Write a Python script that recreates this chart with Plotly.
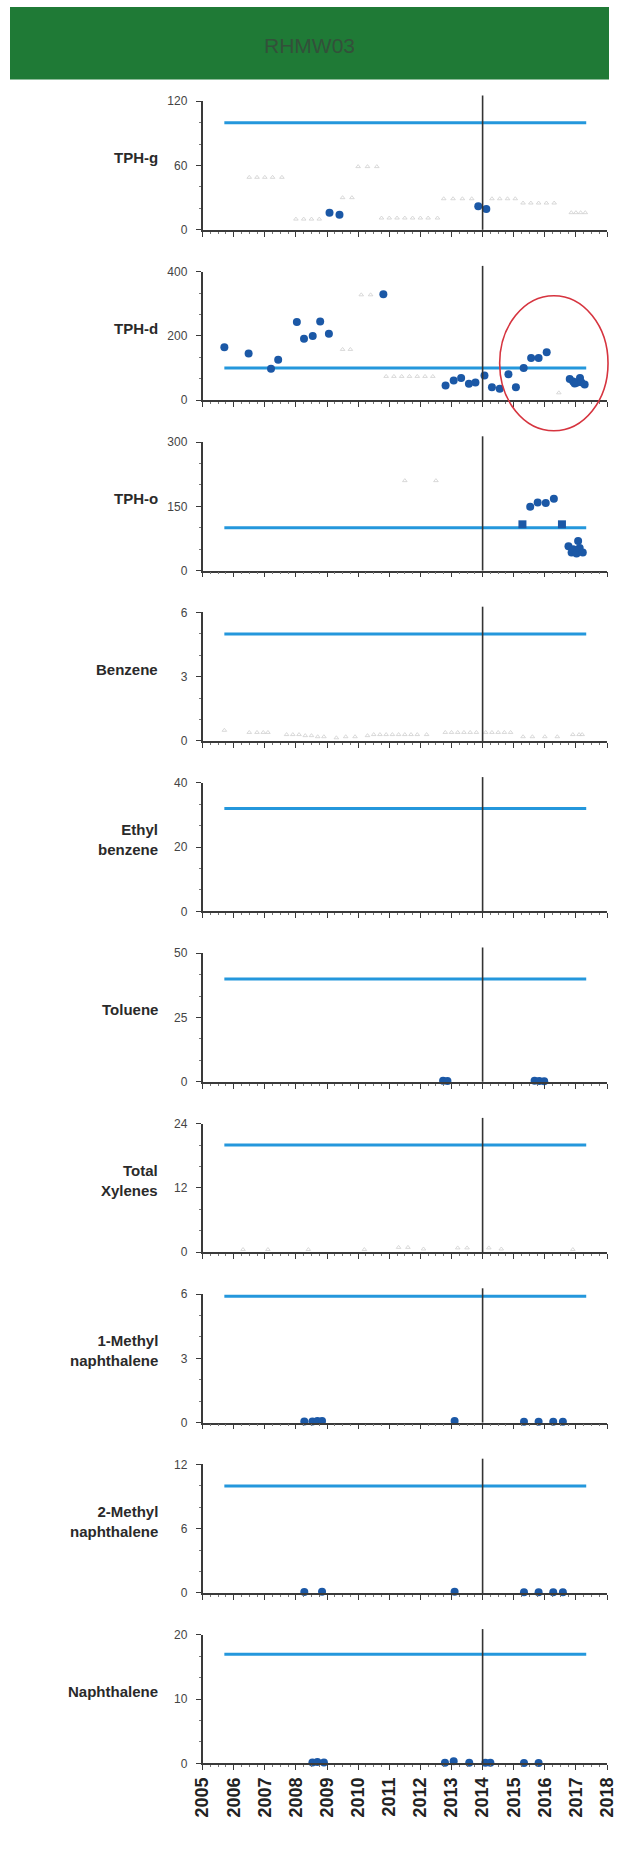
import plotly.graph_objects as go

# ---------------- data ----------------
analytes = ["TPH-g", "TPH-d", "TPH-o", "Benzene", "Ethyl<br>benzene", "Toluene",
            "Total<br>Xylenes", "1-Methyl<br>naphthalene", "2-Methyl<br>naphthalene", "Naphthalene"]
axis_max = [120, 400, 300, 6, 40, 50, 24, 6, 12, 20]
screening_level = [100, 100, 100, 5, 32, 40, 20, 5.9, 10, 17]
screen_start, screen_end = 2005.7, 2017.33
action_year = 2014.0
year_ticks = list(range(2005, 2019))

# detected results (decimal year / concentration)
tphg_x = [2009.08, 2009.40, 2013.86, 2014.12]
tphg_y = [16, 14, 22, 19.5]
tphd_x = [2005.70, 2006.48, 2007.20, 2007.43, 2008.03, 2008.26, 2008.54, 2008.78, 2009.06,
          2010.81, 2012.81, 2013.07, 2013.31, 2013.56, 2013.77, 2014.06, 2014.30, 2014.55,
          2014.83, 2015.07, 2015.32, 2015.56, 2015.80, 2016.06,
          2016.80, 2016.91, 2016.96, 2017.02, 2017.13, 2017.17, 2017.28]
tphd_y = [165, 145, 98, 126, 243, 191, 200, 245, 207,
          330, 46, 61, 69, 51, 55, 77, 40, 36,
          81, 40, 100, 131, 131, 149,
          66, 58, 52, 54, 69, 56, 49]
tpho_x = [2015.53, 2015.77, 2016.03, 2016.29,
          2016.76, 2016.86, 2016.91, 2017.02, 2017.07, 2017.12, 2017.22]
tpho_y = [149, 159, 158, 168,
          57, 42, 50, 40, 69, 53, 42]
tpho_sq_x = [2015.28, 2016.55]
tpho_sq_y = [108, 108]
toluene_x = [2012.73, 2012.87, 2015.67, 2015.82, 2015.98]
toluene_y = [0.4, 0.3, 0.4, 0.3, 0.2]
mnap1_x = [2008.27, 2008.53, 2008.69, 2008.84, 2013.10, 2015.33, 2015.80, 2016.27, 2016.58]
mnap1_y = [0.05, 0.05, 0.08, 0.08, 0.08, 0.04, 0.04, 0.04, 0.04]
mnap2_x = [2008.27, 2008.84, 2013.10, 2015.33, 2015.80, 2016.27, 2016.58]
mnap2_y = [0.1, 0.12, 0.12, 0.08, 0.08, 0.08, 0.08]
naph_x = [2008.53, 2008.69, 2008.90, 2012.79, 2013.07, 2013.57, 2014.09, 2014.25, 2015.33, 2015.80]
naph_y = [0.15, 0.2, 0.15, 0.1, 0.35, 0.1, 0.1, 0.1, 0.05, 0.05]

# non-detect (reporting limit) results, drawn faint
nd_tphg_x = [2006.5, 2006.75, 2007.0, 2007.25, 2007.55, 2008.0, 2008.25, 2008.5, 2008.75,
             2009.5, 2009.8, 2010.0, 2010.3, 2010.6, 2010.75, 2011.0, 2011.25, 2011.5,
             2011.75, 2012.0, 2012.25, 2012.55, 2012.75, 2013.05, 2013.35, 2013.65,
             2014.3, 2014.55, 2014.8, 2015.05, 2015.3, 2015.55, 2015.8, 2016.05, 2016.3,
             2016.85, 2017.0, 2017.15, 2017.3]
nd_tphg_y = [49, 49, 49, 49, 49, 10, 10, 10, 10,
             30, 30, 59, 59, 59, 11, 11, 11, 11,
             11, 11, 11, 11, 29, 29, 29, 29,
             29, 29, 29, 29, 25, 25, 25, 25, 25,
             16, 16, 16, 16]
nd_tphd_x = [2009.5, 2009.75, 2010.1, 2010.4, 2010.9, 2011.15, 2011.4, 2011.65, 2011.9,
             2012.15, 2012.4, 2016.45]
nd_tphd_y = [158, 158, 328, 328, 74, 74, 74, 74, 74, 74, 74, 23]
nd_tpho_x = [2011.5, 2012.5]
nd_tpho_y = [210, 210]
nd_benz_x = [2005.7, 2006.5, 2006.75, 2006.95, 2007.1, 2007.7, 2007.9, 2008.1, 2008.3, 2008.5,
             2008.7, 2008.9, 2009.3, 2009.6, 2009.9, 2010.3, 2010.5, 2010.7, 2010.9, 2011.1,
             2011.3, 2011.5, 2011.7, 2011.9, 2012.2, 2012.8, 2013.0, 2013.2, 2013.4, 2013.6,
             2013.8, 2014.1, 2014.3, 2014.5, 2014.7, 2014.9, 2015.3, 2015.6, 2016.0, 2016.4,
             2016.9, 2017.1, 2017.2]
nd_benz_y = [0.5, 0.4, 0.4, 0.4, 0.4, 0.3, 0.3, 0.3, 0.25, 0.25,
             0.2, 0.2, 0.15, 0.2, 0.2, 0.25, 0.3, 0.3, 0.3, 0.3,
             0.3, 0.3, 0.3, 0.3, 0.3, 0.4, 0.4, 0.4, 0.4, 0.4,
             0.4, 0.4, 0.4, 0.4, 0.4, 0.4, 0.2, 0.2, 0.2, 0.2,
             0.3, 0.3, 0.3]
nd_xyl_x = [2006.3, 2007.1, 2008.4, 2010.2, 2011.3, 2011.6, 2012.1, 2013.2, 2013.5, 2014.2, 2014.6, 2016.9]
nd_xyl_y = [0.5, 0.5, 0.5, 0.5, 0.9, 0.9, 0.6, 0.8, 0.8, 0.8, 0.6, 0.5]

detects = [(tphg_x, tphg_y), (tphd_x, tphd_y), (tpho_x, tpho_y), ([], []), ([], []),
           (toluene_x, toluene_y), ([], []), (mnap1_x, mnap1_y), (mnap2_x, mnap2_y), (naph_x, naph_y)]
nondetects = [(nd_tphg_x, nd_tphg_y), (nd_tphd_x, nd_tphd_y), (nd_tpho_x, nd_tpho_y),
              (nd_benz_x, nd_benz_y), ([], []), ([], []), (nd_xyl_x, nd_xyl_y),
              ([], []), ([], []), ([], [])]

# ---------------- layout geometry (page pixels) ----------------
BODY_MARGIN = 8                      # default <body> margin of the html page
W, H = 619, 1848                     # keeps the page free of scrollbars


def px(p):
    return (p - BODY_MARGIN) / W


def py(p):
    return 1 - (p - BODY_MARGIN) / H


PANEL_TOP0, PANEL_PITCH, PANEL_H = 103, 171.7, 129.5
X_LEFT, X_RIGHT = 207, 625
LABEL_RIGHT = 163

FONT = "Liberation Sans, Arial, sans-serif"
DOT = "#1b58a6"
SCREEN = "#2497dc"
AXIS = "#3a3a3a"

fig = go.Figure()
layout = dict(width=W, height=H, margin=dict(l=0, r=0, t=0, b=0),
              paper_bgcolor="white", plot_bgcolor="white", showlegend=False,
              font=dict(family=FONT, color="#333"))
shapes, annotations = [], []

for i, name in enumerate(analytes):
    n = i + 1
    xa = "x" if n == 1 else f"x{n}"
    ya = "y" if n == 1 else f"y{n}"
    top = PANEL_TOP0 + PANEL_PITCH * i
    y1 = py(top)
    y0 = py(top + PANEL_H)
    last = (i == len(analytes) - 1)
    layout["xaxis" if n == 1 else f"xaxis{n}"] = dict(
        domain=[px(X_LEFT), px(X_RIGHT)], anchor=ya, range=[2005, 2018],
        tickmode="array", tickvals=year_ticks, ticktext=[str(v) for v in year_ticks],
        showticklabels=last, tickangle=-90, ticklabeloverflow="allow",
        tickfont=dict(size=18, color="#222", family=FONT, weight="bold"),
        ticks="outside", ticklen=5, tickwidth=1.3, tickcolor=AXIS,
        minor=dict(dtick=0.25, tick0=2005, ticks="outside", ticklen=2, tickcolor="#777"),
        showline=True, linecolor=AXIS, linewidth=1.6, showgrid=False, zeroline=False,
        fixedrange=True)
    layout["yaxis" if n == 1 else f"yaxis{n}"] = dict(
        domain=[y0, y1], anchor=xa, range=[0, axis_max[i]],
        tickmode="linear", tick0=0, dtick=axis_max[i] / 2,
        tickfont=dict(size=12, color="#444", family=FONT),
        ticks="outside", ticklen=5, tickwidth=1.3, tickcolor=AXIS, ticklabelstandoff=6,
        minor=dict(dtick=axis_max[i] / 6, ticks="outside", ticklen=2, tickcolor="#777"),
        showline=True, linecolor=AXIS, linewidth=1.6, showgrid=False, zeroline=False,
        fixedrange=True)

    # screening level line
    fig.add_trace(go.Scatter(x=[screen_start, screen_end],
                             y=[screening_level[i], screening_level[i]],
                             mode="lines", line=dict(color=SCREEN, width=3),
                             xaxis=xa, yaxis=ya, cliponaxis=False, hoverinfo="skip"))
    # non-detects
    ndx, ndy = nondetects[i]
    if ndx:
        fig.add_trace(go.Scatter(x=ndx, y=ndy, mode="markers",
                                 marker=dict(symbol="triangle-up-open", size=4,
                                             color="#cfcfcf", line=dict(width=0.8)),
                                 xaxis=xa, yaxis=ya, cliponaxis=False))
    # detects
    dx, dy = detects[i]
    if dx:
        fig.add_trace(go.Scatter(x=dx, y=dy, mode="markers",
                                 marker=dict(symbol="circle", size=8, color=DOT),
                                 xaxis=xa, yaxis=ya, cliponaxis=False))
    if i == 2:
        fig.add_trace(go.Scatter(x=tpho_sq_x, y=tpho_sq_y, mode="markers",
                                 marker=dict(symbol="square", size=8, color=DOT),
                                 xaxis=xa, yaxis=ya, cliponaxis=False))

    # vertical reference line at action year
    shapes.append(dict(type="line", xref=xa, yref=f"{ya} domain",
                       x0=action_year, x1=action_year, y0=0, y1=1.045,
                       line=dict(color="#333", width=1.6), layer="above"))
    # analyte label
    annotations.append(dict(text=f"<b>{name}</b>", xref="paper", yref="paper",
                            x=px(LABEL_RIGHT), y=y0 + 0.56 * (y1 - y0),
                            xanchor="right", yanchor="middle", align="right",
                            showarrow=False,
                            font=dict(size=15, color="#2a2a2a", family=FONT)))

# header band
shapes.insert(0, dict(type="rect", xref="paper", yref="paper",
                      x0=px(8), x1=1, y0=py(81), y1=1,
                      fillcolor="#1f7a36", line=dict(width=0), layer="below"))
annotations.append(dict(text="RHMW03", xref="paper", yref="paper",
                        x=px(318), y=py(47), xanchor="center", yanchor="middle",
                        showarrow=False, font=dict(size=21, color="#33503a", family=FONT)))

# red highlight ellipse around recent TPH-d results
shapes.append(dict(type="circle", xref="paper", yref="paper",
                   x0=px(514), x1=px(626), y0=py(435), y1=py(299),
                   line=dict(color="#d6343f", width=1.6), layer="above"))

layout["shapes"] = shapes
layout["annotations"] = annotations
fig.update_layout(**layout)

fig.write_html("out.html")
